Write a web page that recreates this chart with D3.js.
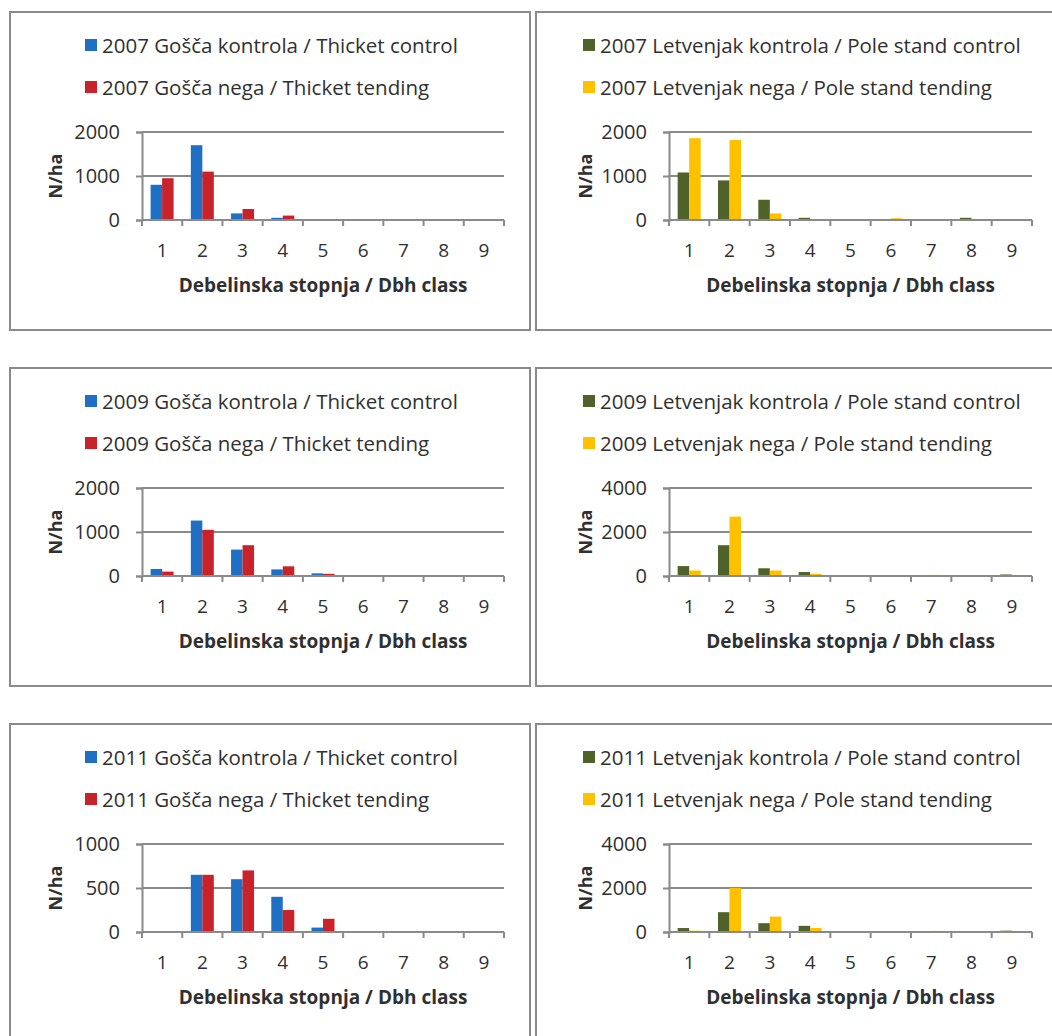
<!DOCTYPE html>
<html>
<head>
<meta charset="utf-8">
<script src="https://cdn.jsdelivr.net/npm/d3@7"></script>
<style>
  html, body { margin: 0; padding: 0; background: #fff; }
  svg { display: block; }
  text { font-family: "Open Sans", Lato, sans-serif; fill: #303030; }
</style>
</head>
<body>
<svg id="chart" width="1052" height="1036"></svg>
<script>
// Debelinske stopnje (Dbh classes)
const classes = ["1", "2", "3", "4", "5", "6", "7", "8", "9"];

// Gošča / Thicket, N/ha
const thicketControl2007 = [800, 1700, 150, 50, 0, 0, 0, 0, 0];
const thicketTending2007 = [950, 1100, 250, 100, 0, 0, 0, 0, 0];
const thicketControl2009 = [160, 1260, 600, 150, 60, 0, 0, 0, 0];
const thicketTending2009 = [100, 1050, 700, 220, 50, 0, 0, 0, 0];
const thicketControl2011 = [0, 650, 600, 400, 50, 0, 0, 0, 0];
const thicketTending2011 = [0, 650, 700, 250, 150, 0, 0, 0, 0];

// Letvenjak / Pole stand, N/ha
const poleControl2007 = [1080, 900, 460, 50, 0, 0, 0, 50, 0];
const poleTending2007 = [1860, 1820, 150, 0, 0, 40, 0, 0, 0];
const poleControl2009 = [450, 1400, 350, 180, 0, 0, 0, 0, 70];
const poleTending2009 = [250, 2700, 250, 100, 0, 0, 50, 0, 0];
const poleControl2011 = [180, 900, 400, 280, 0, 0, 0, 0, 60];
const poleTending2011 = [60, 2000, 700, 180, 0, 0, 50, 0, 0];

// Y-axis tick values
const ticks2000 = [0, 1000, 2000];
const ticks4000 = [0, 2000, 4000];
const ticks1000 = [0, 500, 1000];

// Legend labels
const legendThicket = ["Gošča kontrola / Thicket control", "Gošča nega / Thicket tending"];
const legendPole = ["Letvenjak kontrola / Pole stand control", "Letvenjak nega / Pole stand tending"];

const xTitle = "Debelinska stopnja / Dbh class";
const yTitle = "N/ha";

const thicketColors = ["#1f6fc4", "#c8222b"];
const poleColors = ["#4e6229", "#ffc000"];

const panels = [
  { row: 0, col: 0, year: "2007", names: legendThicket, colors: thicketColors, series: [thicketControl2007, thicketTending2007], ticks: ticks2000 },
  { row: 0, col: 1, year: "2007", names: legendPole, colors: poleColors, series: [poleControl2007, poleTending2007], ticks: ticks2000 },
  { row: 1, col: 0, year: "2009", names: legendThicket, colors: thicketColors, series: [thicketControl2009, thicketTending2009], ticks: ticks2000 },
  { row: 1, col: 1, year: "2009", names: legendPole, colors: poleColors, series: [poleControl2009, poleTending2009], ticks: ticks4000 },
  { row: 2, col: 0, year: "2011", names: legendThicket, colors: thicketColors, series: [thicketControl2011, thicketTending2011], ticks: ticks1000 },
  { row: 2, col: 1, year: "2011", names: legendPole, colors: poleColors, series: [poleControl2011, poleTending2011], ticks: ticks4000 }
];

const svg = d3.select("#chart");
const rowTop = [12, 368, 724];
const colLeft = [10, 536];
const frameW = [520, 530];
const frameH = 318;
const gridColor = "#8a8a8a";

panels.forEach(p => {
  const fx = colLeft[p.col], fy = rowTop[p.row];
  const g = svg.append("g").attr("transform", `translate(${fx},${fy})`);

  // panel frame
  g.append("rect")
    .attr("x", 0).attr("y", 0)
    .attr("width", frameW[p.col]).attr("height", frameH)
    .attr("fill", "#fff").attr("stroke", gridColor).attr("stroke-width", 2);

  const plotL = p.col === 0 ? 132 : 133;
  const plotR = p.col === 0 ? 494 : 496;
  const plotT = 120, plotB = 208;

  const x = d3.scaleBand().domain(classes).range([plotL, plotR]).paddingInner(0).paddingOuter(0);
  const y = d3.scaleLinear().domain([0, d3.max(p.ticks)]).range([plotB, plotT]);
  // bar width = band / 3.5 (gap width 150%)
  const barW = x.bandwidth() / 3.5;

  // gridlines
  g.append("g").selectAll("line").data(p.ticks.filter(t => t > 0)).join("line")
    .attr("x1", plotL).attr("x2", plotR)
    .attr("y1", d => y(d)).attr("y2", d => y(d))
    .attr("stroke", gridColor).attr("stroke-width", 2);

  // bars
  p.series.forEach((vals, si) => {
    g.append("g").selectAll("rect").data(vals).join("rect")
      .attr("x", (d, i) => x(classes[i]) + barW * 0.75 + si * barW)
      .attr("width", barW)
      .attr("y", d => y(d))
      .attr("height", d => plotB - y(d))
      .attr("fill", p.colors[si]);
  });

  // y axis
  const yAxis = d3.axisLeft(y).tickValues(p.ticks).tickSize(6).tickPadding(16).tickFormat(d3.format("d"));
  const ya = g.append("g").attr("transform", `translate(${plotL},0)`).call(yAxis);
  ya.select(".domain").attr("stroke", gridColor).attr("stroke-width", 2);
  ya.selectAll(".tick line").attr("stroke", gridColor).attr("stroke-width", 2);
  ya.selectAll(".tick text").attr("font-size", 20).attr("fill", "#303030")
    .style("font-family", "'Open Sans', sans-serif");

  // x axis with ticks at class boundaries
  const xa = g.append("g").attr("transform", `translate(0,${plotB})`);
  xa.append("line").attr("x1", plotL).attr("x2", plotR).attr("y1", 0).attr("y2", 0)
    .attr("stroke", gridColor).attr("stroke-width", 2);
  const bounds = classes.map(c => x(c)).concat([x(classes[classes.length - 1]) + x.bandwidth()]);
  xa.selectAll("line.tk").data(bounds).join("line").attr("class", "tk")
    .attr("x1", d => d).attr("x2", d => d).attr("y1", 0).attr("y2", 6)
    .attr("stroke", gridColor).attr("stroke-width", 2);
  xa.selectAll("text").data(classes).join("text")
    .attr("x", d => x(d) + x.bandwidth() / 2)
    .attr("y", 30)
    .attr("text-anchor", "middle").attr("dominant-baseline", "central")
    .attr("font-size", 19)
    .text(d => d);

  // axis titles
  g.append("text")
    .attr("x", (plotL + plotR) / 2).attr("y", 273)
    .attr("text-anchor", "middle").attr("dominant-baseline", "central")
    .attr("font-size", 19).attr("font-weight", "bold")
    .text(xTitle);
  g.append("text")
    .attr("transform", `translate(${p.col === 0 ? 45 : 49},${(plotT + plotB) / 2}) rotate(-90)`)
    .attr("text-anchor", "middle").attr("dominant-baseline", "central")
    .attr("font-size", 18).attr("font-weight", "bold")
    .text(yTitle);

  // legend
  const lx = p.col === 0 ? 75 : 47;
  const leg = g.append("g").selectAll("g").data(p.names).join("g")
    .attr("transform", (d, i) => `translate(${lx},${33 + i * 42})`);
  leg.append("rect").attr("x", 0).attr("y", -6).attr("width", 12).attr("height", 12)
    .attr("fill", (d, i) => p.colors[i]);
  leg.append("text").attr("x", 17).attr("y", 0).attr("dominant-baseline", "central")
    .attr("font-size", 20.5)
    .text(d => `${p.year} ${d}`);
});
</script>
</body>
</html>
